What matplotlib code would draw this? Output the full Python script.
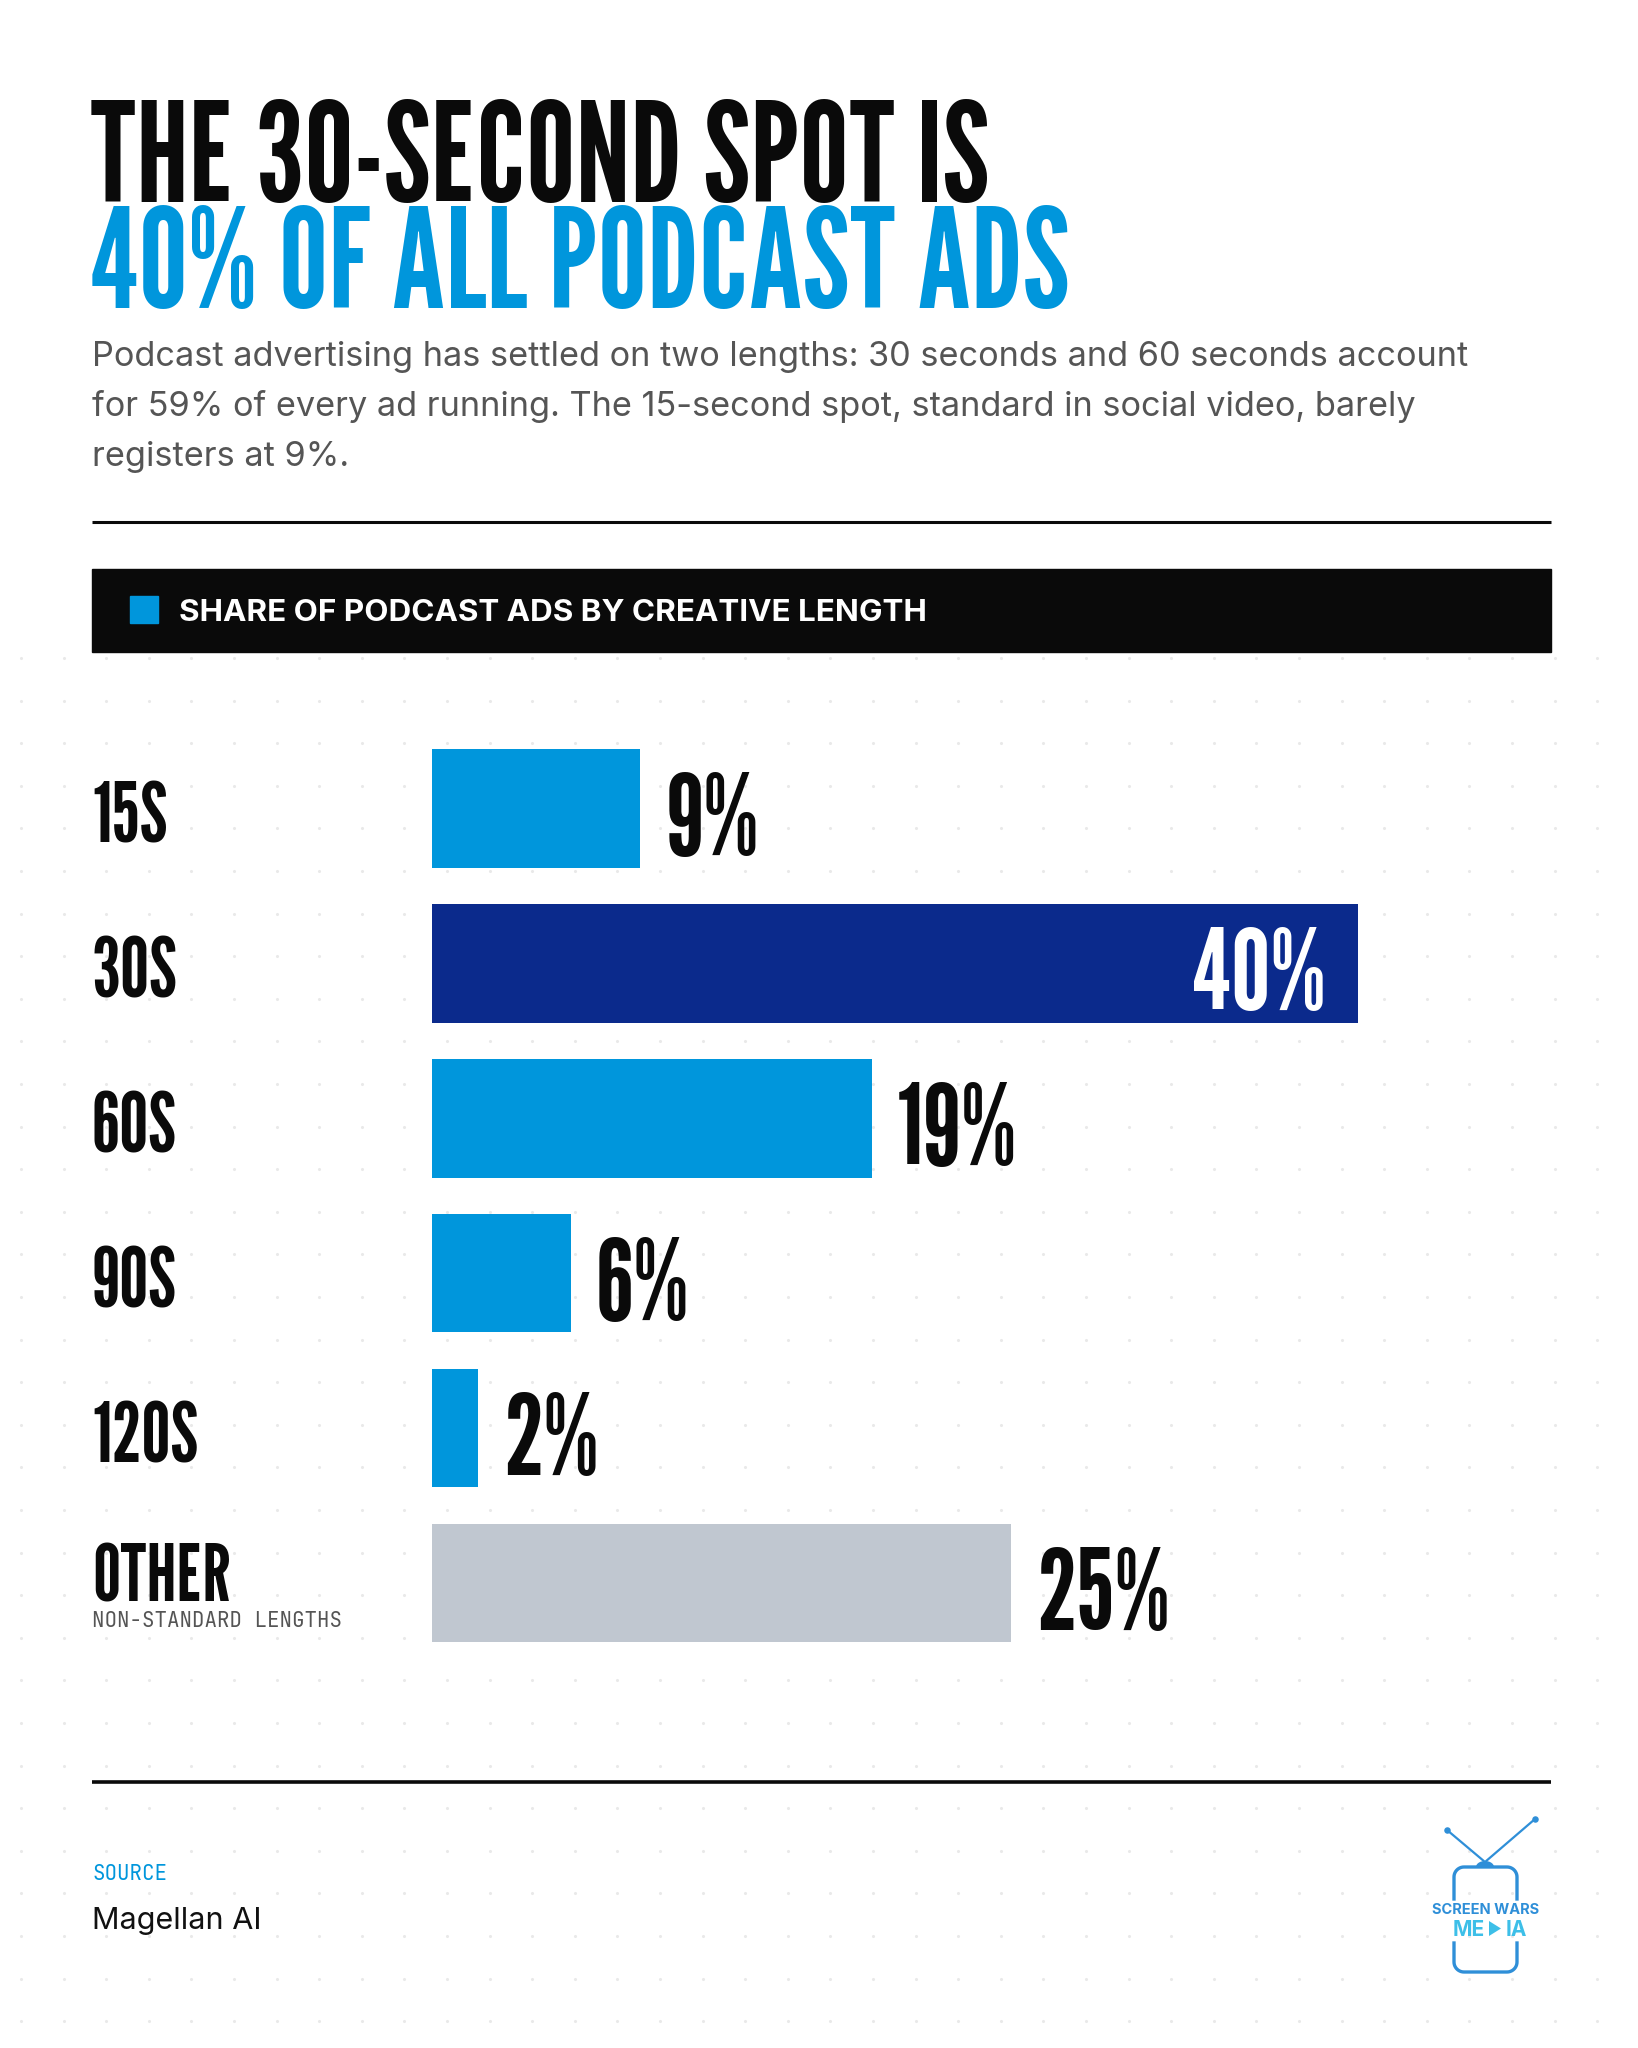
import matplotlib
matplotlib.use('Agg')
import matplotlib.pyplot as plt
from matplotlib.transforms import offset_copy
import numpy as np

W, H = 1638, 2048

categories = ['15S', '30S', '60S', '90S', '120S', 'OTHER']
shares = [9, 40, 19, 6, 2, 25]
value_labels = ['9%', '40%', '19%', '6%', '2%', '25%']
bar_colors = ['#0096DC', '#0B2A8C', '#0096DC', '#0096DC', '#0096DC', '#C0C7D0']

title_1 = 'THE 30-SECOND SPOT IS'
title_2 = '40% OF ALL PODCAST ADS'
subtitle = ['Podcast advertising has settled on two lengths: 30 seconds and 60 seconds account',
            'for 59% of every ad running. The 15-second spot, standard in social video, barely',
            'registers at 9%.']
band_title = 'SHARE OF PODCAST ADS BY CREATIVE LENGTH'
other_note = 'NON-STANDARD LENGTHS'
source_name = 'Magellan AI'

COND = ['League Gothic', 'Bebas Neue', 'DejaVu Sans']
SANS = ['Inter', 'DejaVu Sans']
MONO = ['JetBrains Mono', 'DejaVu Sans Mono']
BLUE = '#0096DC'
INK = '#0A0A0A'

fig = plt.figure(figsize=(W / 100, H / 100), dpi=100)
fig.patch.set_facecolor('white')

# full-page pixel canvas for the decoration
bg = fig.add_axes([0, 0, 1, 1])
bg.set_xlim(0, W)
bg.set_ylim(H, 0)
bg.axis('off')

# faint dot grid below the header band
gx, gy = np.meshgrid(np.arange(21, W, 42.6), np.arange(658, 2040, 42.6))
bg.scatter(gx.ravel(), gy.ravel(), s=5, color='#e9e9e9', linewidths=0, zorder=0)

# headline
bg.text(90, 202, title_1, family=COND, fontsize=100, color=INK, va='baseline')
bg.text(90, 308, title_2, family=COND, fontsize=100, color=BLUE, va='baseline')
for k, line in enumerate(subtitle):
    bg.text(92, 366 + 50 * k, line, family=SANS, fontsize=24.7, color='#555555', va='baseline')

bg.plot([92, 1551], [522, 522], color=INK, lw=2.2, solid_capstyle='butt')

# black band with legend square
bg.add_patch(plt.Rectangle((92, 569), 1459, 83, color=INK, zorder=2))
bg.add_patch(plt.Rectangle((130, 596), 28, 27, color=BLUE, zorder=3))
bg.text(179, 621, band_title, family=SANS, weight='bold', fontsize=22.6, color='white',
        va='baseline', zorder=4)

# footer
bg.plot([92, 1551], [1782, 1782], color=INK, lw=2.6, solid_capstyle='butt')
bg.text(92, 1880, 'SOURCE', family=MONO, weight='bold', fontsize=15, color=BLUE, va='baseline')
bg.text(92, 1929, source_name, family=SANS, fontsize=22, color='#111111', va='baseline')

# logo
LOGO = '#2F8FD8'
def rounded(x0, x1, y_open, y_edge, r):
    t = np.linspace(0, np.pi / 2, 12)
    s = 1 if y_edge > y_open else -1
    xs = [x0, x0] + list(x0 + r - r * np.cos(t)) + list(x1 - r + r * np.sin(t)) + [x1, x1]
    ys = [y_open, y_edge - s * r] + list(y_edge - s * r + s * r * np.sin(t)) + \
         list(y_edge - s * r + s * r * np.cos(t)) + [y_edge - s * r, y_open]
    return xs, ys
xs, ys = rounded(1454, 1517, 1899, 1867, 10)
bg.plot(xs, ys, color=LOGO, lw=2.4)
xs, ys = rounded(1454, 1517, 1943, 1972, 10)
bg.plot(xs, ys, color=LOGO, lw=2.4)
bg.plot([1447, 1485, 1535], [1830, 1862, 1819], color=LOGO, lw=1.6)
bg.scatter([1447, 1535], [1830, 1819], s=22, color=LOGO, linewidths=0)
th = np.linspace(0, np.pi, 30)
bg.fill(1485 + 9 * np.cos(th), 1867 - 6 * np.sin(th), color=LOGO, lw=0)
bg.text(1486, 1914, 'SCREEN WARS', family=SANS, weight='bold', fontsize=10.5, color=LOGO,
        ha='center', va='baseline')
bg.text(1485, 1936, 'ME', family=SANS, weight='bold', fontsize=15, color='#3DBFE8',
        ha='right', va='baseline')
bg.fill([1489, 1489, 1501], [1921, 1936, 1928.5], color='#3DBFE8', lw=0)
bg.text(1506, 1936, 'IA', family=SANS, weight='bold', fontsize=15, color='#3DBFE8',
        ha='left', va='baseline')

# bar chart: 155 px per row, 23.15 px per percentage point
top, bottom = 731, 1660.5
ax = fig.add_axes([432 / W, 1 - bottom / H, 1119 / W, (bottom - top) / H])
ax.patch.set_alpha(0)
y = np.arange(len(categories))
ax.barh(y, shares, height=0.765, color=bar_colors, zorder=2)
ax.set_xlim(0, 1119 / 23.15)
ax.set_ylim(len(categories) - 0.5, -0.5)
ax.axis('off')

lab_tr = offset_copy(ax.get_yaxis_transform(), fig=fig, y=-34.5, units='dots')
oth_tr = offset_copy(ax.get_yaxis_transform(), fig=fig, y=-18, units='dots')
note_tr = offset_copy(ax.get_yaxis_transform(), fig=fig, y=-44, units='dots')
val_tr = offset_copy(ax.transData, fig=fig, y=-46, units='dots')
lab_x = (92 - 432) / 1119
for i, (cat, v, lab) in enumerate(zip(categories, shares, value_labels)):
    if cat == 'OTHER':
        ax.text(lab_x, i, cat, transform=oth_tr, family=COND, fontsize=57,
                color=INK, va='baseline', clip_on=False)
        ax.text(lab_x, i, other_note, transform=note_tr, family=MONO, fontsize=15,
                color='#555555', va='baseline', clip_on=False)
    else:
        ax.text(lab_x, i, cat, transform=lab_tr, family=COND, fontsize=59,
                color=INK, va='baseline', clip_on=False)
    if v == max(shares):
        ax.text(v - 1.38, i, lab, transform=val_tr, family=COND, fontsize=80,
                color='white', ha='right', va='baseline', zorder=3)
    else:
        ax.text(v + 1.08, i, lab, transform=val_tr, family=COND, fontsize=80,
                color=INK, ha='left', va='baseline', zorder=3)

fig.savefig('out.png', dpi=100, facecolor='white')
